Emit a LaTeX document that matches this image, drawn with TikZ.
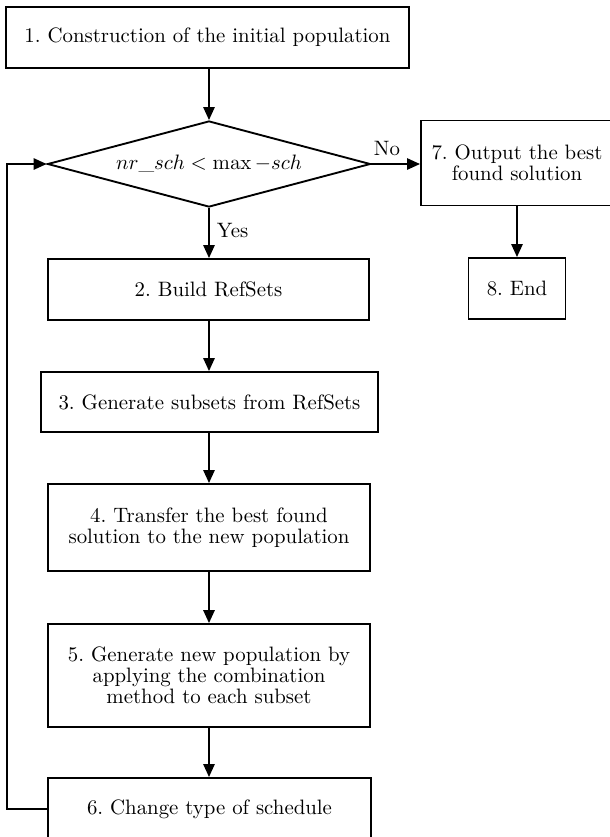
\documentclass[tikz,border=0pt]{standalone}
\usetikzlibrary{shapes.geometric,arrows.meta}

\tikzset{
  stepbox/.style={draw, line width=0.9pt, align=center, inner sep=2pt,
    font=\fontsize{10}{10.2}\selectfont},
  flowarrow/.style={line width=0.9pt, -{Triangle[length=6.2pt,width=5.4pt]}}
}

\begin{document}
\begin{tikzpicture}[x=0.48pt, y=-0.48pt]
    \useasboundingbox (0,0) rectangle (609,837);
    % left column
    \node [stepbox, minimum width=193.4pt, minimum height=29.3pt] (init) at (207.5,37.5) {1.~Construction of the initial population};
    \node [stepbox, diamond, aspect=3.76, inner sep=0pt, minimum width=155pt, minimum height=41.3pt] (check) at (209,164) {$nr\_sch < \max -sch$};
    \node [stepbox, minimum width=154pt, minimum height=29.3pt] (refsets) at (208.5,289.5) {2.~Build RefSets};
    \node [stepbox, minimum width=161.8pt, minimum height=28.8pt] (subsets) at (209.5,402) {3.~Generate subsets from RefSets};
    \node [stepbox, minimum width=154.6pt, minimum height=41.8pt] (transfer) at (209,527.5) {4.~Transfer the best found\\solution to the new population};
    \node [stepbox, minimum width=154.6pt, minimum height=49.4pt] (combine) at (209,675.5) {5.~Generate new population by\\applying the combination\\method to each subset};
    \node [stepbox, minimum width=155pt, minimum height=29.8pt] (schedule) at (209.5,809) {6.~Change type of schedule};
    % right column
    \node [stepbox, minimum width=92.2pt, minimum height=40.8pt] (output) at (517,163) {7.~Output the best\\found solution};
    \node [stepbox, minimum width=46.6pt, minimum height=29.3pt] (finish) at (517,288.5) {8.~End};

    \draw [flowarrow] (init.south -| check.north) -- (check.north);
    \draw [flowarrow] (check.east) -- node [pos=0.32, above] {No} (check.east -| output.west);
    \draw [flowarrow] (check.south) -- node [pos=0.45, right] {Yes} (check.south |- refsets.north);
    \draw [flowarrow] (refsets.south -| check.south) -- (check.south |- subsets.north);
    \draw [flowarrow] (subsets.south -| check.south) -- (check.south |- transfer.north);
    \draw [flowarrow] (transfer.south -| check.south) -- (check.south |- combine.north);
    \draw [flowarrow] (combine.south -| check.south) -- (check.south |- schedule.north);
    \draw [flowarrow] (output) -- (finish);
    \draw [flowarrow] (schedule.west) -- ++(-40,0) |- (check.west);
\end{tikzpicture}
\end{document}
